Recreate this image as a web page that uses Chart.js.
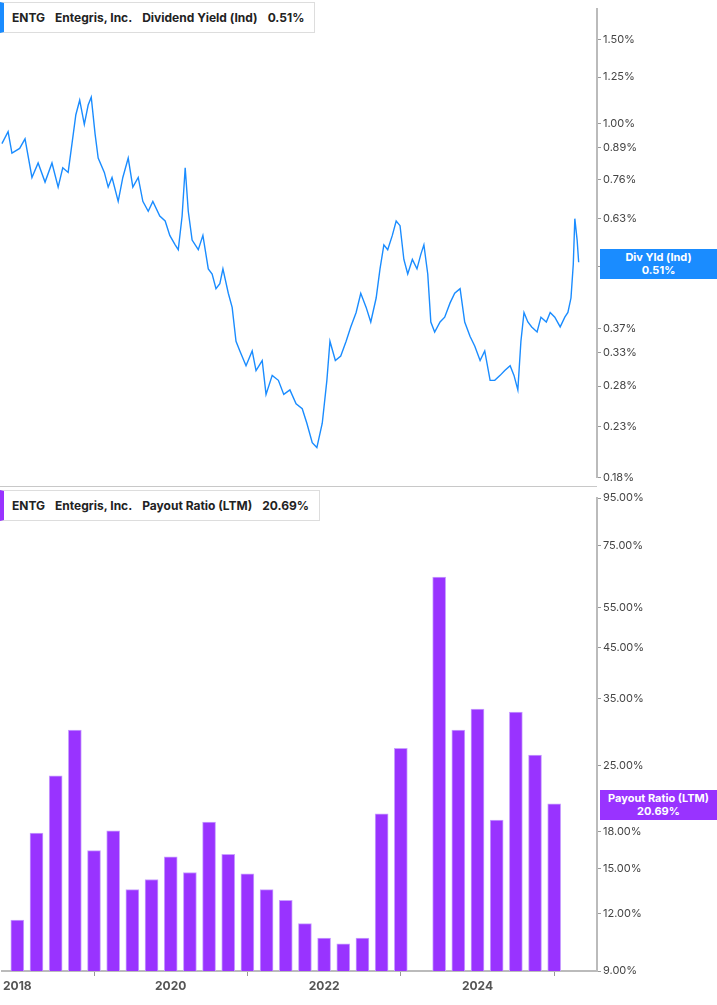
<!DOCTYPE html>
<html lang="en">
<head>
<meta charset="UTF-8">
<title>ENTG Dividend Yield & Payout Ratio</title>
<script src="https://cdn.jsdelivr.net/npm/chart.js"></script>
<style>
  body { margin: 0; background: #fff; font-family: Inter, "Noto Sans", Arial, sans-serif; }
  .wrap { position: relative; width: 717px; height: 1005px; }
  #top { position: absolute; left: 0; top: 0; }
  #bottom { position: absolute; left: 0; top: 487px; }
  .divider { position: absolute; left: 0; top: 486px; width: 597px; height: 1px; background: #c8c8c8; }
  .legend {
    position: absolute; left: 0; background: #fff; border: 1px solid #ddd;
    border-left: 4px solid; font-size: 12px; font-weight: 700; color: #222;
    padding: 7px 10px 7px 8px; white-space: nowrap;
  }
  .legend span { margin-right: 10px; }
  .tag {
    position: absolute; left: 600px; width: 117px; color: #fff; font-size: 11px;
    font-weight: 700; text-align: center; line-height: 13px; padding: 2px 0;
  }
</style>
</head>
<body>
<div class="wrap">
  <canvas id="top" width="717" height="486"></canvas>
  <div class="divider"></div>
  <canvas id="bottom" width="717" height="518"></canvas>
  <div class="legend" style="top:2px;border-left-color:#1a8cff">
    <span>ENTG</span><span>Entegris, Inc.</span><span>Dividend Yield (Ind)</span>0.51%
  </div>
  <div class="legend" style="top:490px;border-left-color:#9933ff">
    <span>ENTG</span><span>Entegris, Inc.</span><span>Payout Ratio (LTM)</span>20.69%
  </div>
  <div class="tag" style="top:249px;background:#1a8cff">Div Yld (Ind)<br>0.51%</div>
  <div class="tag" style="top:790px;background:#9933ff">Payout Ratio (LTM)<br>20.69%</div>
</div>

<script>
  // dividend yield (%)
  const yieldDates = [2017.83,2017.91,2017.96,2018.06,2018.13,2018.22,2018.30,2018.39,2018.48,2018.56,2018.62,2018.69,2018.74,2018.79,2018.84,2018.90,2018.95,2018.99,2019.04,2019.08,2019.16,2019.21,2019.26,2019.34,2019.40,2019.47,2019.53,2019.60,2019.66,2019.73,2019.79,2019.88,2019.95,2020.01,2020.08,2020.12,2020.17,2020.21,2020.25,2020.30,2020.38,2020.44,2020.51,2020.56,2020.61,2020.66,2020.70,2020.77,2020.82,2020.87,2020.92,2021.00,2021.08,2021.13,2021.21,2021.26,2021.34,2021.42,2021.49,2021.57,2021.65,2021.73,2021.79,2021.86,2021.92,2021.99,2022.05,2022.09,2022.16,2022.23,2022.30,2022.36,2022.43,2022.49,2022.56,2022.62,2022.69,2022.74,2022.79,2022.84,2022.90,2022.95,2023.00,2023.05,2023.10,2023.16,2023.22,2023.27,2023.31,2023.36,2023.40,2023.45,2023.52,2023.58,2023.65,2023.71,2023.78,2023.84,2023.91,2023.97,2024.04,2024.10,2024.17,2024.23,2024.30,2024.36,2024.43,2024.48,2024.53,2024.57,2024.61,2024.66,2024.71,2024.78,2024.83,2024.90,2024.95,2025.01,2025.08,2025.14,2025.18,2025.22,2025.25,2025.27,2025.30,2025.32];
  const yieldValues = [0.906,0.960,0.865,0.885,0.927,0.769,0.825,0.752,0.825,0.734,0.806,0.788,0.906,1.042,1.118,0.995,1.092,1.134,0.949,0.845,0.788,0.734,0.769,0.685,0.769,0.845,0.734,0.769,0.685,0.653,0.685,0.638,0.623,0.581,0.555,0.542,0.638,0.806,0.653,0.568,0.542,0.581,0.494,0.482,0.449,0.460,0.494,0.439,0.410,0.348,0.332,0.309,0.332,0.302,0.317,0.269,0.295,0.288,0.269,0.275,0.257,0.251,0.234,0.213,0.208,0.234,0.288,0.348,0.317,0.324,0.348,0.373,0.400,0.439,0.410,0.382,0.429,0.494,0.555,0.542,0.581,0.623,0.609,0.517,0.482,0.517,0.494,0.530,0.555,0.482,0.382,0.364,0.382,0.391,0.419,0.439,0.449,0.382,0.356,0.340,0.317,0.332,0.288,0.288,0.295,0.302,0.309,0.295,0.275,0.348,0.400,0.382,0.373,0.364,0.391,0.382,0.400,0.391,0.373,0.391,0.400,0.429,0.505,0.630,0.568,0.510];
  const yieldTicks = [0.18,0.23,0.28,0.33,0.37,0.50,0.63,0.76,0.89,1.00,1.25,1.50];

  // payout ratio (LTM, %), quarterly; null = no bar
  const quarters = [2018.0,2018.25,2018.5,2018.75,2019.0,2019.25,2019.5,2019.75,2020.0,2020.25,2020.5,2020.75,2021.0,2021.25,2021.5,2021.75,2022.0,2022.25,2022.5,2022.75,2023.0,2023.25,2023.5,2023.75,2024.0,2024.25,2024.5,2024.75,2025.0];
  const payout = [11.6,17.9,23.8,29.9,16.4,18.1,13.5,14.2,15.9,14.7,18.9,16.1,14.6,13.5,12.8,11.4,10.6,10.3,10.6,19.7,27.3,null,64.1,29.9,33.2,19.1,32.7,26.4,20.7];
  const payoutTicks = [9,12,15,18,25,35,45,55,75,95];
  const yearTicks = [2018,2020,2022,2024];

  const xMin = 2017.805, xMax = 2025.558;
  const tickFont = { family: 'Inter, "Noto Sans", Arial', size: 11 };

  function rightAxis(min, max, ticks, hideVal) {
    return {
      type: 'logarithmic', position: 'right', min: min, max: max,
      afterBuildTicks: s => { s.ticks = ticks.map(v => ({ value: v })); },
      afterFit: s => { s.width = 120; },
      grid: { drawOnChartArea: false, tickLength: 4, color: '#999' },
      border: { color: '#bbb', width: 2 },
      ticks: {
        color: '#444', font: tickFont, padding: 2, autoSkip: false,
        callback: v => v === hideVal ? '' : v.toFixed(2) + '%'
      }
    };
  }

  new Chart(document.getElementById('top'), {
    type: 'line',
    data: {
      datasets: [{
        data: yieldDates.map((d, i) => ({ x: d, y: yieldValues[i] })),
        borderColor: '#1a8cff', borderWidth: 1.4, pointRadius: 0, tension: 0
      }]
    },
    options: {
      responsive: false, animation: false,
      layout: { padding: 0 },
      plugins: { legend: { display: false }, tooltip: { enabled: false } },
      scales: {
        x: { type: 'linear', min: xMin, max: xMax, display: false },
        y: rightAxis(0.18, 1.742, yieldTicks, 0.50)
      }
    }
  });

  new Chart(document.getElementById('bottom'), {
    type: 'bar',
    data: {
      datasets: [{
        data: quarters.map((q, i) => ({ x: q, y: payout[i] })),
        backgroundColor: '#9933ff', borderColor: '#c9a0ff',
        borderWidth: { top: 1, left: 1, right: 1, bottom: 0 },
        barThickness: 13
      }]
    },
    options: {
      responsive: false, animation: false,
      layout: { padding: { top: 11 } },
      plugins: { legend: { display: false }, tooltip: { enabled: false } },
      scales: {
        x: {
          type: 'linear', min: xMin, max: xMax, offset: false,
          afterBuildTicks: s => { s.ticks = yearTicks.map(v => ({ value: v })); },
          afterFit: s => { s.height = 34; },
          grid: { drawOnChartArea: false, tickLength: 5, color: '#999' },
          border: { color: '#bbb', width: 2 },
          ticks: { color: '#555', font: { family: tickFont.family, size: 12, weight: 'bold' }, maxRotation: 0, callback: v => String(v) }
        },
        y: rightAxis(9, 95, payoutTicks, null)
      }
    }
  });
</script>
</body>
</html>
